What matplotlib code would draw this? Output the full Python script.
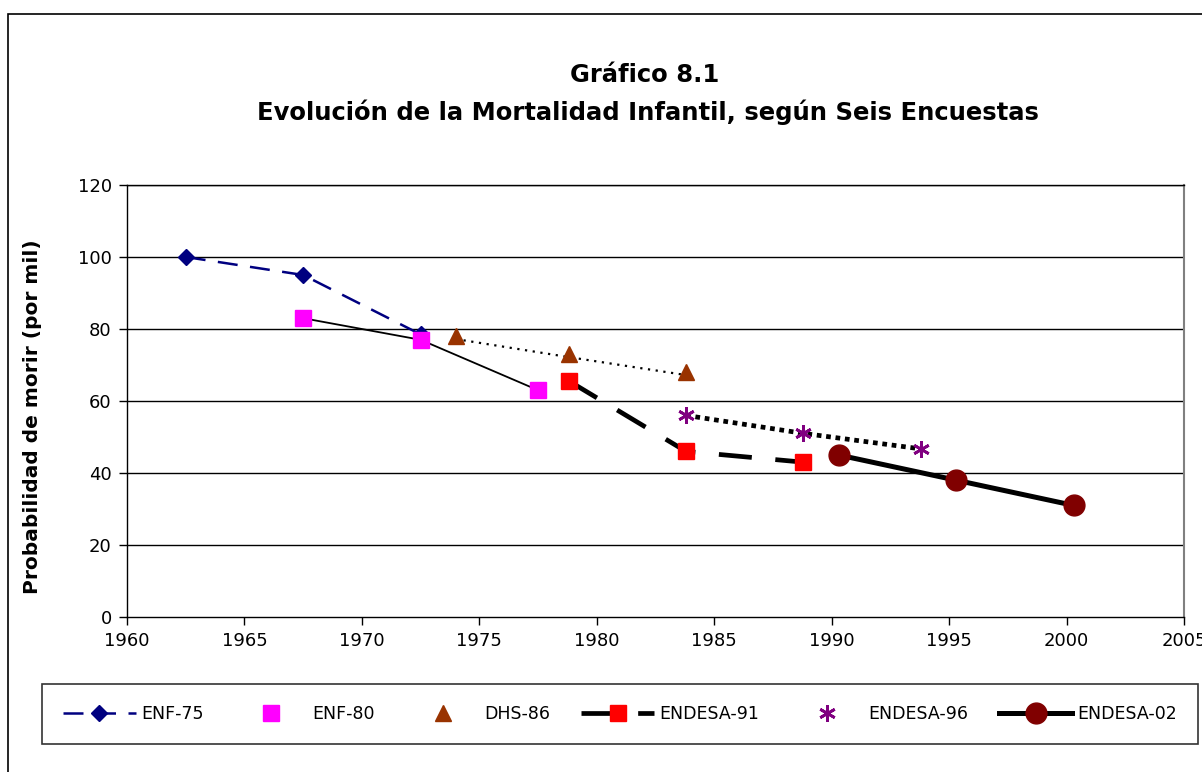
import matplotlib
matplotlib.use("Agg")
import matplotlib.pyplot as plt
from matplotlib.patches import Rectangle

plt.rcParams['font.family'] = ['DejaVu Sans']

# Data
enf75_x = [1962.5, 1967.5, 1972.5]
enf75_y = [100, 95, 78.5]
enf80_x = [1967.5, 1972.5, 1977.5]
enf80_y = [83, 77, 63]
dhs86_x = [1974.0, 1978.8, 1983.8]
dhs86_y = [78, 73, 68]
endesa91_x = [1978.8, 1983.8, 1988.8]
endesa91_y = [65.6, 46, 43]
endesa96_x = [1983.8, 1988.8, 1993.8]
endesa96_y = [56, 51, 46.7]
endesa02_x = [1990.3, 1995.3, 2000.3]
endesa02_y = [45, 38, 31]

x_ticks = [1960, 1965, 1970, 1975, 1980, 1985, 1990, 1995, 2000, 2005]
y_ticks = [0, 20, 40, 60, 80, 100, 120]

W, H = 1202, 772
fig = plt.figure(figsize=(W/100, H/100), dpi=100)
ax = fig.add_axes([127/W, 1-617/H, (1184-127)/W, (617-185)/H])

ax.set_xlim(1960, 2005)
ax.set_ylim(0, 120)
ax.set_xticks(x_ticks)
ax.set_yticks(y_ticks)
ax.tick_params(direction='out', length=6, width=1, labelsize=13, colors='black', pad=5)
for g in y_ticks[1:]:
    ax.axhline(g, color='black', lw=1, zorder=1)
for s in ax.spines.values():
    s.set_color('black')
    s.set_linewidth(1)
ax.spines['right'].set_color('#808080')
ax.spines['right'].set_linewidth(1.5)

# ENF-75
ax.plot(enf75_x, enf75_y, color='#000080', lw=1.8, dashes=(8, 5), marker='D', ms=8,
        mfc='#000080', mec='#000080', label='ENF-75', zorder=4)
# ENF-80 (line drawn separately)
ax.plot(enf80_x, enf80_y, color='black', lw=1.3, zorder=3)
ax.plot(enf80_x, enf80_y, ls='none', marker='s', ms=11, mfc='#FF00FF', mec='#FF00FF',
        label='ENF-80', zorder=4)
# DHS-86
ax.plot(dhs86_x, [v - 0.8 for v in dhs86_y], color='black', lw=1.6, ls=(0, (1, 2.5)), zorder=3)
ax.plot(dhs86_x, dhs86_y, ls='none', marker='^', ms=11, mfc='#993300', mec='#993300',
        label='DHS-86', zorder=4)
# ENDESA-91
ax.plot(endesa91_x, endesa91_y, color='black', lw=3.4, dashes=(7, 5), marker='s', ms=11,
        mfc='#FF0000', mec='#FF0000', label='ENDESA-91', zorder=4)
# ENDESA-96
ax.plot(endesa96_x, endesa96_y, color='black', lw=3.4, ls=(0, (1, 1)), zorder=3)
ax.plot(endesa96_x, endesa96_y, ls='none', marker=(6, 2, 0), ms=12, mew=2, mfc='#800080',
        mec='#800080', label='ENDESA-96', zorder=4)
# ENDESA-02
ax.plot(endesa02_x, endesa02_y, color='black', lw=3.6, marker='o', ms=15,
        mfc='#800000', mec='#800000', label='ENDESA-02', zorder=4)

ax.set_ylabel('Probabilidad de morir (por mil)', fontsize=14.5, fontweight='bold')
ax.yaxis.set_label_coords((42-127)/(1184-127), (617-417)/(617-185))

fig.text(645/W, 1-75/H, 'Gráfico 8.1', ha='center', va='center', fontsize=17.5, fontweight='bold')
fig.text(648/W, 1-112/H, 'Evolución de la Mortalidad Infantil, según Seis Encuestas',
         ha='center', va='center', fontsize=17.5, fontweight='bold')

# Outer border
fig.patches.append(Rectangle((8/W, -0.05), 1.1, 1-14/H+0.05, transform=fig.transFigure,
                             fill=False, ec='black', lw=1.2))

leg = fig.legend(loc='center', bbox_to_anchor=(42/W, 1-745/H, (1198-42)/W, 62/H),
                 mode='expand', ncol=6, frameon=True,
                 fontsize=12.5, handlelength=4.2, columnspacing=0.5, handletextpad=0.3,
                 borderpad=1.2, borderaxespad=0, fancybox=False, edgecolor='black')
leg.get_frame().set_linewidth(1.2)

fig.savefig('out.png', dpi=100)
